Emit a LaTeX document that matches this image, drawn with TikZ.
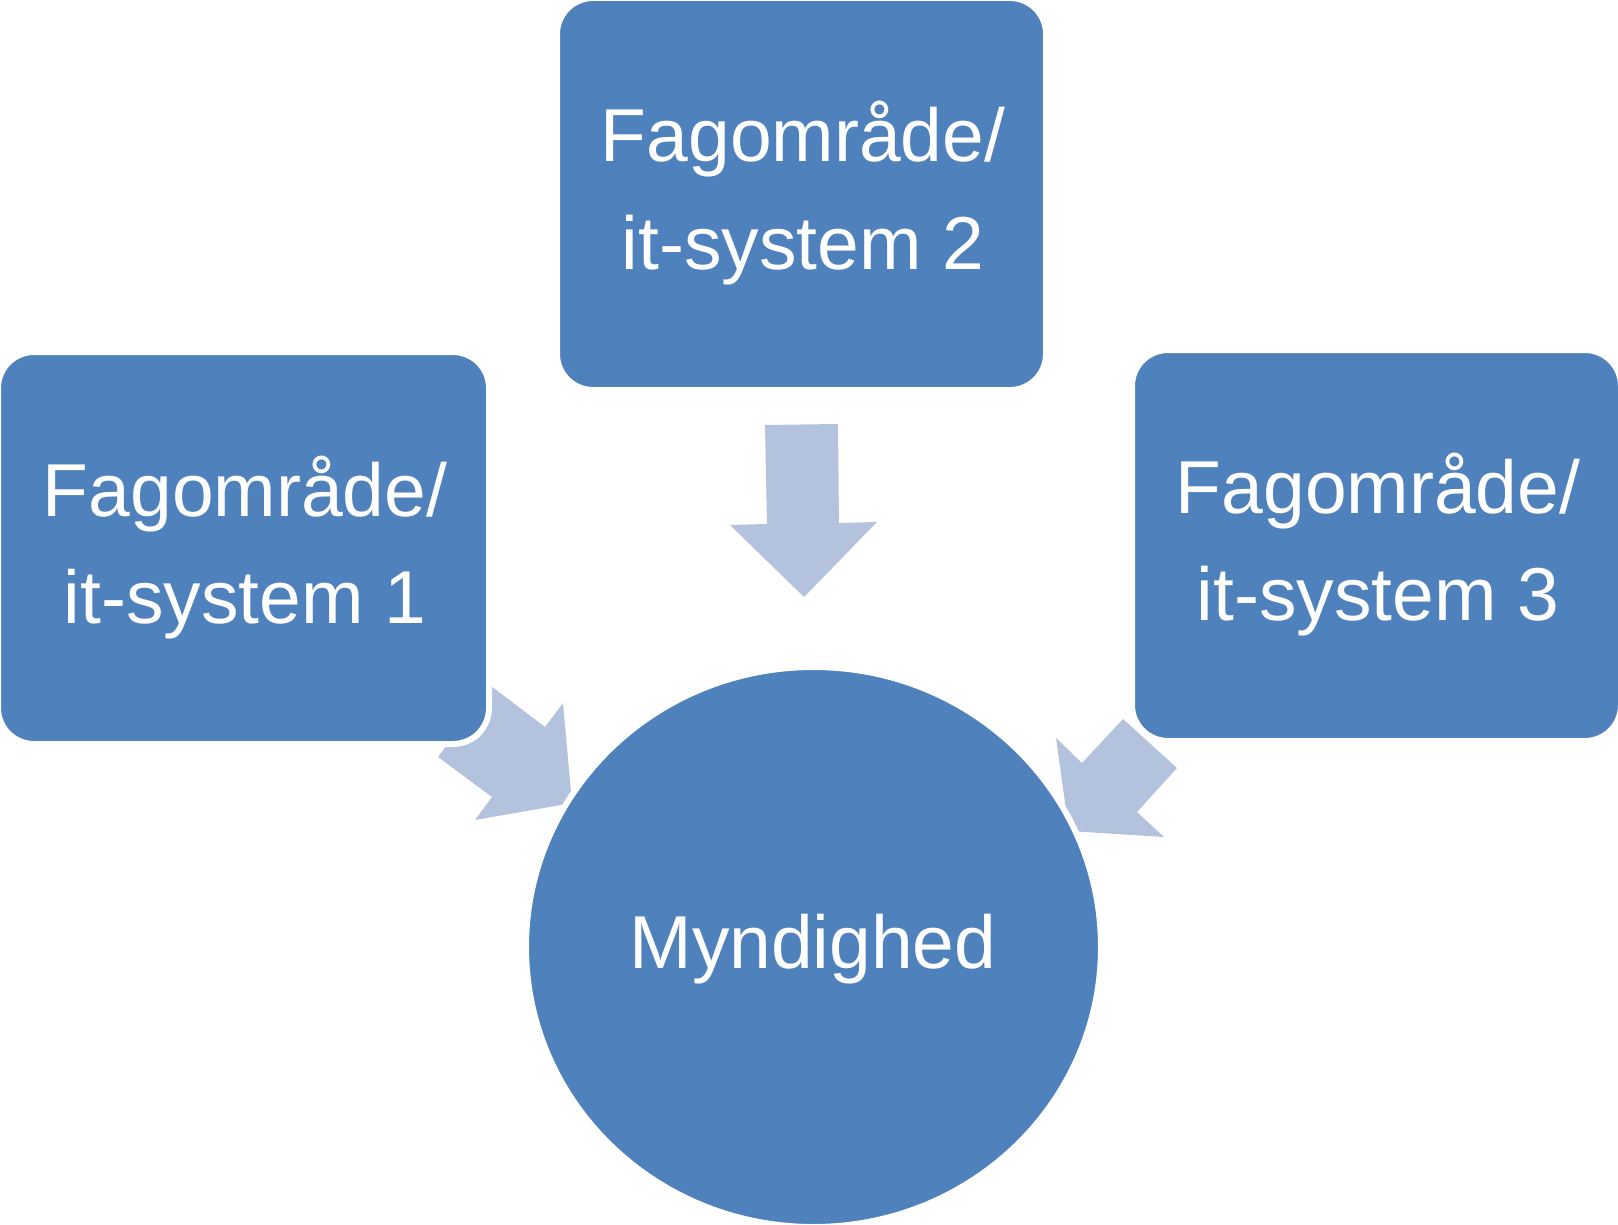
\documentclass[tikz,border=0pt]{standalone}
\usepackage{fontspec}
\setmainfont{Liberation Sans}
\usetikzlibrary{shapes.geometric}
\definecolor{boxblue}{HTML}{4F81BD}
\definecolor{arrowblue}{HTML}{B3C2DD}
\begin{document}
\begin{tikzpicture}[x=1pt,y=-1pt,
  boxnode/.style={rectangle, rounded corners=36pt, fill=boxblue, draw=white, line width=6pt, inner sep=0pt, outer sep=0pt},
  circnode/.style={ellipse, fill=boxblue, draw=white, line width=6pt, inner sep=0pt, outer sep=0pt},
  lbl/.style={text=white, font=\fontsize{75}{90}\selectfont, anchor=base, inner sep=0pt},
  blockarrow/.style={fill=arrowblue, draw=none}]
\useasboundingbox (0,0) rectangle (1618,1225);
% block arrows (drawn beneath the shapes)
\fill[blockarrow] (765,425) -- (838,424) -- (839,523) -- (877,522) -- (804,597) -- (730,525) -- (767,524) -- cycle;
\fill[blockarrow] (491,686) -- (545,727) -- (563,703) -- (572,803) -- (475,820) -- (492,797) -- (438,757) -- cycle;
\fill[blockarrow] (1123,719) -- (1177,768) -- (1137,812) -- (1164,837) -- (1069,831) -- (1056,738) -- (1082,763) -- cycle;
% boxes
\node[boxnode, minimum width=491pt, minimum height=392pt] (b1) at (243.5,548) {};
\node[boxnode, minimum width=489pt, minimum height=392pt] (b2) at (801.5,194) {};
\node[boxnode, minimum width=489pt, minimum height=391pt] (b3) at (1376.5,545.5) {};
\node[circnode, minimum width=575pt, minimum height=560pt] (c) at (813.5,947) {};
% labels
\node[lbl] (t1a) at (245,516) {Fagområde/};
\node[lbl] (t1b) at (245,623) {it-system 1};
\node[lbl] (t2a) at (803,162) {Fagområde/};
\node[lbl] (t2b) at (803,270) {it-system 2};
\node[lbl] (t3a) at (1378,513) {Fagområde/};
\node[lbl] (t3b) at (1378,620) {it-system 3};
\node[lbl] (tc) at (813,968) {Myndighed};
\end{tikzpicture}
\end{document}
